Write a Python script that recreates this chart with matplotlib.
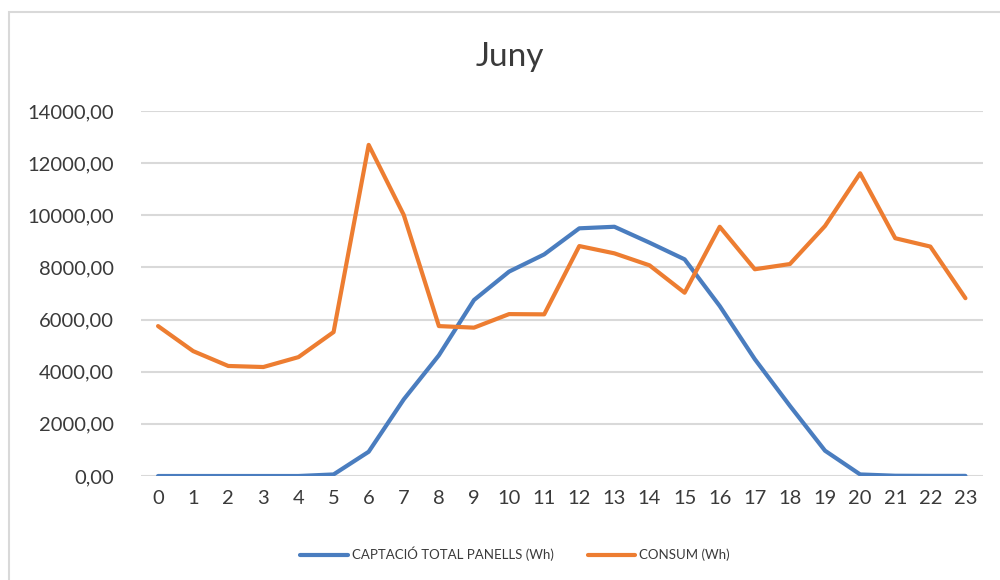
import matplotlib
matplotlib.use('Agg')
import matplotlib.pyplot as plt
from matplotlib.patches import Rectangle

# hourly data for June
hores = list(range(24))
captacio = [0, 0, 0, 0, 0, 60, 930, 2940, 4630, 6750, 7840, 8500, 9500, 9560,
            8950, 8310, 6520, 4480, 2690, 970, 60, 10, 5, 5]
consum = [5750, 4790, 4220, 4180, 4560, 5520, 12700, 10010, 5750, 5690, 6210, 6200,
          8820, 8540, 8080, 7030, 9560, 7930, 8130, 9590, 11610, 9120, 8800, 6820]
yticks = [0, 2000, 4000, 6000, 8000, 10000, 12000, 14000]

plt.rcParams['font.family'] = ['Lato', 'DejaVu Sans']

fig = plt.figure(figsize=(10, 5.8), dpi=100)
ax = fig.add_axes([0.1405, 1 - 476/580, 0.8425, 365/580])

ax.plot(hores, captacio, color='#4A7DBF', lw=3, solid_capstyle='round',
        solid_joinstyle='round', label='CAPTACIÓ TOTAL PANELLS (Wh)')
ax.plot(hores, consum, color='#ED7D31', lw=3, solid_capstyle='round',
        solid_joinstyle='round', label='CONSUM (Wh)')

ax.set_xlim(-0.5, 23.5)
ax.set_ylim(0, 14000)
ax.set_xticks(hores)
ax.set_xticklabels([str(h) for h in hores])
ax.set_yticks(yticks)
ax.set_yticklabels([('%.2f' % v).replace('.', ',') for v in yticks])
ax.yaxis.grid(True, color='#D9D9D9', lw=1.5)
ax.set_axisbelow(True)
for s in ax.spines.values():
    s.set_visible(False)
ax.tick_params(length=0, labelsize=14.5, labelcolor='#3A3A3A')
ax.tick_params(axis='y', pad=19)
ax.tick_params(axis='x', pad=10)

fig.text(0.51, 1 - 57/580, 'Juny', ha='center', va='center', fontsize=24, color='#3A3A3A')

fig.legend(loc='center', bbox_to_anchor=(0.515, 1 - 554/580), ncol=2, frameon=False,
           fontsize=9.5, handlelength=3.6, columnspacing=2.6, handletextpad=0.3,
           labelcolor='#3A3A3A')

fig.patches.append(Rectangle((9/1000, -0.1), 1.1, 1 - 12/580 + 0.1, transform=fig.transFigure,
                             fill=False, edgecolor='#D9D9D9', lw=1.5))

fig.savefig('out.png', dpi=100)
